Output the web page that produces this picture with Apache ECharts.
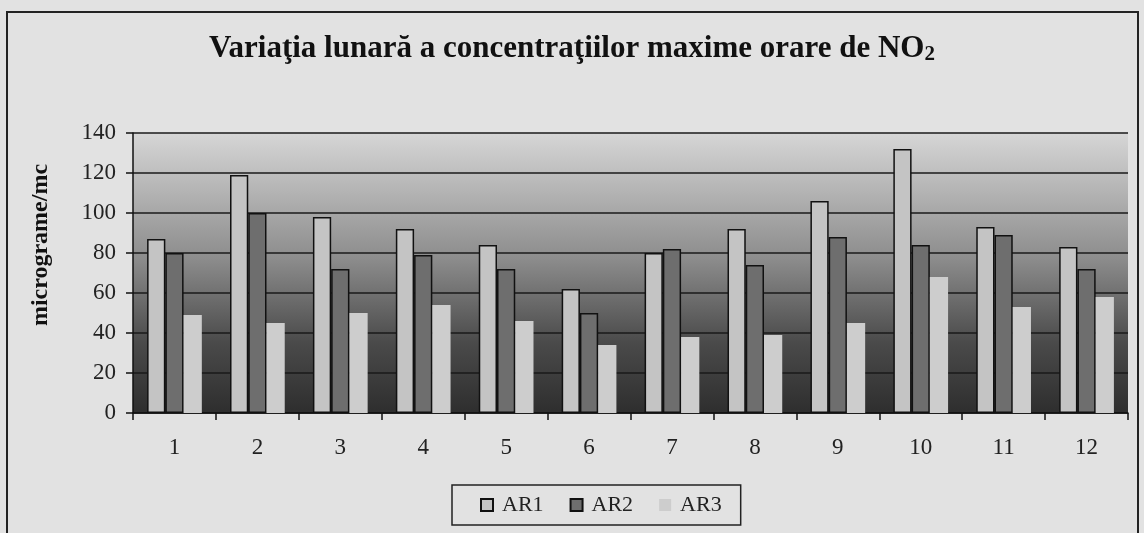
<!DOCTYPE html>
<html>
<head>
<meta charset="utf-8">
<script src="https://cdn.jsdelivr.net/npm/echarts@6/dist/echarts.min.js"></script>
<style>
  html, body { margin: 0; padding: 0; background: #e2e2e2; }
  #chart { width: 1144px; height: 533px; }
</style>
</head>
<body>
<div id="chart"></div>
<script>
const luni = ['1', '2', '3', '4', '5', '6', '7', '8', '9', '10', '11', '12'];
const ar1 = [87, 119, 98, 92, 84, 62, 80, 92, 106, 132, 93, 83];
const ar2 = [80, 100, 72, 79, 72, 50, 82, 74, 88, 84, 89, 72];
const ar3 = [49, 45, 50, 54, 46, 34, 38, 39, 45, 68, 53, 58];

const serif = '"Liberation Serif", "DejaVu Serif", serif';

const chart = echarts.init(document.getElementById('chart'));

chart.setOption({
  backgroundColor: '#e2e2e2',
  animation: false,
  title: {
    text: '{t|Variaţia lunară a concentraţiilor maxime orare de NO}{s|2}',
    left: 'center',
    top: 27,
    textStyle: {
      rich: {
        t: { fontFamily: serif, fontWeight: 'bold', fontSize: 31, color: '#111' },
        s: { fontFamily: serif, fontWeight: 'bold', fontSize: 21, color: '#111', verticalAlign: 'bottom', padding: [12, 0, 0, 0] }
      }
    }
  },
  graphic: [{
    type: 'rect',
    shape: { x: 7, y: 12, width: 1131, height: 530 },
    style: { fill: 'none', stroke: '#222', lineWidth: 2 },
    silent: true
  }],
  legend: {
    bottom: 8,
    left: 452,
    icon: 'rect',
    itemWidth: 12,
    itemHeight: 12,
    itemGap: 26,
    padding: [9, 19, 9, 28],
    borderColor: '#222',
    borderWidth: 1.5,
    textStyle: { fontFamily: serif, fontSize: 22, color: '#222', padding: [0, 0, 0, 4] },
    data: ['AR1', 'AR2', 'AR3']
  },
  grid: {
    left: 133,
    right: 16,
    top: 133,
    bottom: 120,
    show: true,
    borderWidth: 0,
    backgroundColor: new echarts.graphic.LinearGradient(0, 0, 0, 1, [
      { offset: 0, color: '#d6d6d6' },
      { offset: 0.45, color: '#8c8c8c' },
      { offset: 0.75, color: '#4a4a4a' },
      { offset: 1, color: '#2e2e2e' }
    ])
  },
  xAxis: {
    type: 'category',
    data: luni,
    axisLine: { lineStyle: { color: '#111', width: 1.5 } },
    axisTick: { show: true, length: 7, lineStyle: { color: '#111', width: 1.5 } },
    axisLabel: { fontFamily: serif, fontSize: 23, color: '#222', margin: 23 }
  },
  yAxis: {
    type: 'value',
    min: 0,
    max: 140,
    interval: 20,
    name: 'micrograme/mc',
    nameLocation: 'middle',
    nameGap: 80,
    nameTextStyle: { fontFamily: serif, fontWeight: 'bold', fontSize: 24, color: '#111', padding: [0, 0, 0, 56] },
    axisLine: { show: true, lineStyle: { color: '#111', width: 1.5 } },
    axisTick: { show: true, length: 7, lineStyle: { color: '#111', width: 1.5 } },
    axisLabel: { fontFamily: serif, fontSize: 23, color: '#222', margin: 17 },
    splitLine: { lineStyle: { color: '#1a1a1a', width: 1.5 } }
  },
  series: [
    {
      name: 'AR1',
      type: 'bar',
      data: ar1,
      barGap: '0%',
      barCategoryGap: '34%',
      itemStyle: { color: '#c4c4c4', borderColor: '#111', borderWidth: 1.5 }
    },
    {
      name: 'AR2',
      type: 'bar',
      data: ar2,
      itemStyle: { color: '#6e6e6e', borderColor: '#111', borderWidth: 1.5 }
    },
    {
      name: 'AR3',
      type: 'bar',
      data: ar3,
      itemStyle: { color: '#cdcdcd' }
    }
  ]
});
</script>
</body>
</html>
